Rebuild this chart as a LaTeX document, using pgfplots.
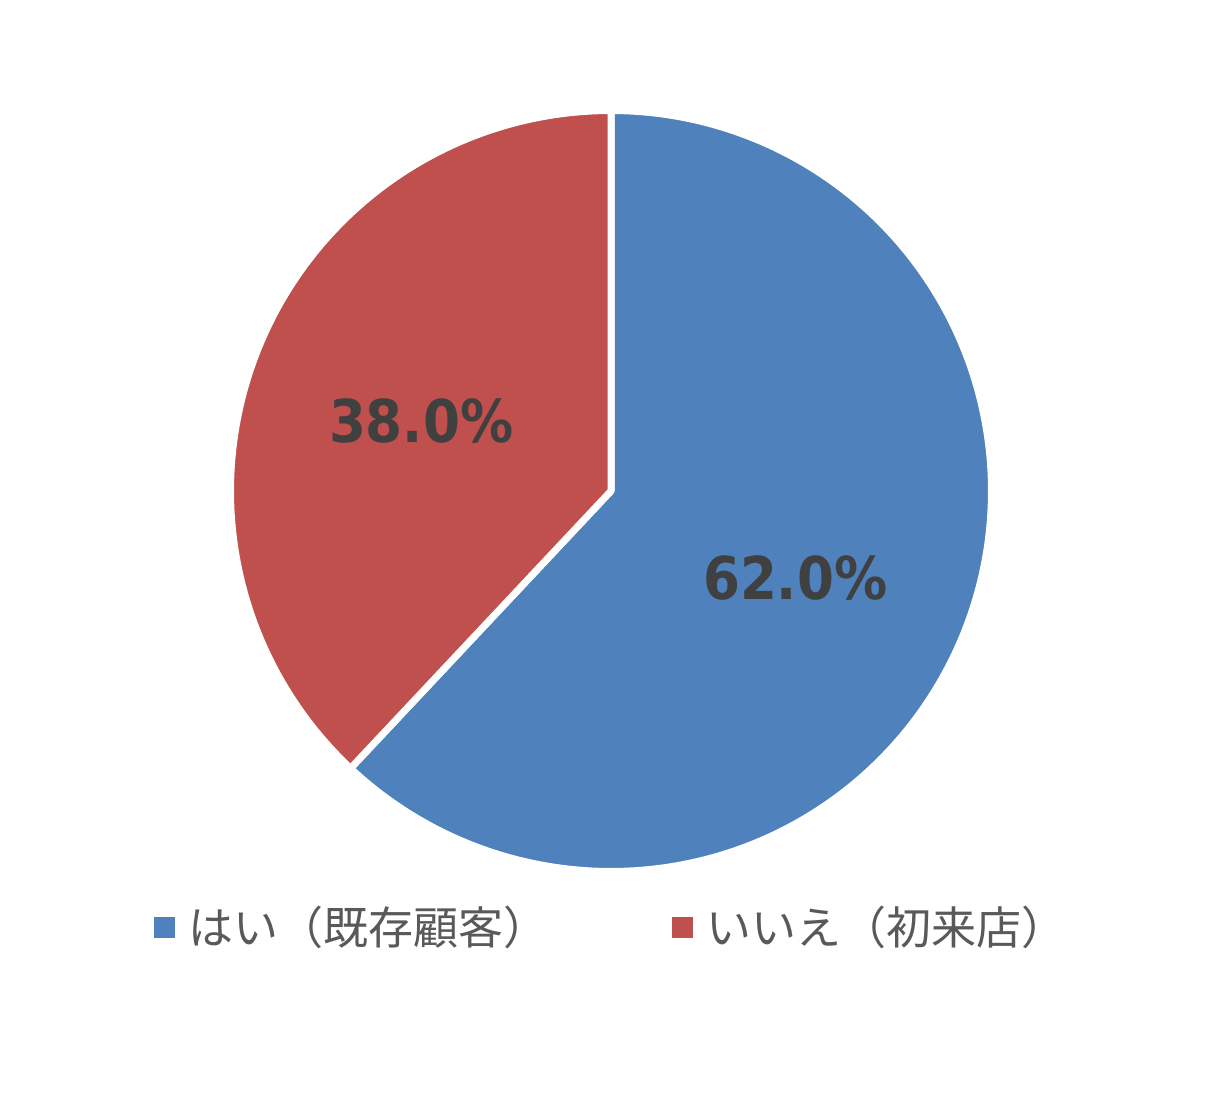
\documentclass[border=0pt]{standalone}
\usepackage{pgfplots}
\pgfplotsset{compat=1.18}
\usepackage{fontspec}
\setmainfont{DejaVu Sans}
\newfontfamily\cjk{Noto Sans CJK JP}
\newfontfamily\lbl{DejaVu Sans}[FakeStretch=0.9]
\definecolor{pieblue}{HTML}{4F81BD}
\definecolor{piered}{HTML}{C0504D}
\definecolor{lbltext}{HTML}{404040}
\definecolor{legtext}{HTML}{595959}
% data: share in percent
\def\valA{62.0}
\def\valB{38.0}
\begin{document}
\begin{tikzpicture}
\useasboundingbox (0,0) rectangle (611bp,550bp);
\pgfmathsetmacro{\endA}{90-3.6*\valA}
\pgfmathsetmacro{\endB}{90+3.6*\valB}
\begin{axis}[
  at={(305.5bp,304.5bp)}, anchor=origin,
  width=380.5bp, height=380.5bp, scale only axis,
  xmin=-1, xmax=1, ymin=-1, ymax=1,
  hide axis, clip=false,
  legend columns=2,
  legend image code/.code={\fill[#1,draw=none] (0bp,-5.25bp) rectangle (10.5bp,5.25bp);},
  legend style={at={(axis cs:-1.2011,-1.1459)}, anchor=west, draw=none, fill=none,
    inner sep=0pt, outer sep=0pt,
    nodes={inner sep=0pt, outer sep=0pt, anchor=west},
    font=\cjk\fontsize{22.5bp}{27bp}\selectfont, text=legtext,
    /tikz/every odd column/.append style={column sep=7bp},
    /tikz/every even column/.append style={column sep=61.5bp}},
]
\addplot[fill=pieblue, draw=white, line width=3.5bp, line join=round, domain=90:\endA, samples=240]
  ({cos(x)},{sin(x)}) -- (axis cs:0,0) -- cycle;
\addlegendentry{はい（既存顧客）}
\addplot[fill=piered, draw=white, line width=3.5bp, line join=round, domain=90:\endB, samples=160]
  ({cos(x)},{sin(x)}) -- (axis cs:0,0) -- cycle;
\addlegendentry{いいえ（初来店）}
\node[text=lbltext, font=\lbl\bfseries\fontsize{29.5bp}{34bp}\selectfont] at (axis cs:0.484,-0.229) {62.0\%};
\node[text=lbltext, font=\lbl\bfseries\fontsize{29.5bp}{34bp}\selectfont] at (axis cs:-0.499,0.184) {38.0\%};
\end{axis}
\end{tikzpicture}
\end{document}
